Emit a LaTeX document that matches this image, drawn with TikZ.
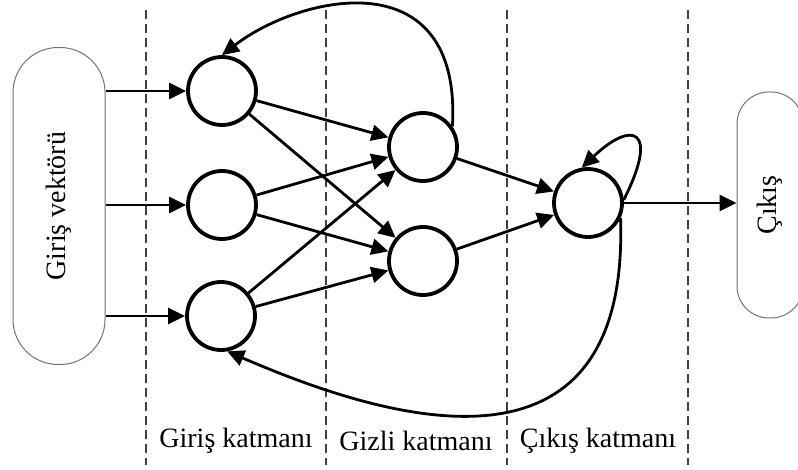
\documentclass[tikz,border=0pt]{standalone}
\usepackage{fontspec}
\setmainfont{Liberation Serif}
\usetikzlibrary{arrows.meta}
\tikzset{
	noron/.style={circle, draw, line width=3.8pt, minimum size=68pt, inner sep=0pt},
	kutu/.style={draw=black!55, line width=1pt, inner sep=0pt, rotate=90},
	ok/.style={line width=2.8pt, -{Triangle[length=17pt,width=16pt]}},
	ayrac/.style={black!75, line width=1.8pt, dash pattern=on 9pt off 5pt},
}
\begin{document}
\begin{tikzpicture}[x=1pt, y=-1pt, font=\fontsize{28}{32}\selectfont]
		\useasboundingbox (0,0) rectangle (798,470);
		% Katman ayraçları
		\foreach \x in {146,326,507,688}
			\draw[ayrac] (\x,10) -- (\x,465);
		% Giriş ve çıkış kutuları
		\node[kutu, minimum width=317pt, minimum height=92pt, rounded corners=45pt] (vec) at (59,206) {Giriş vektörü};
		\node[kutu, minimum width=226pt, minimum height=66pt, rounded corners=32pt] (out) at (770,205) {Çıkış};
		% Nöronlar
		\node[noron] (I1) at (222,91) {};
		\node[noron] (I2) at (222,205) {};
		\node[noron] (I3) at (221,316) {};
		\node[noron] (H1) at (423,147) {};
		\node[noron] (H2) at (423,261) {};
		\node[noron] (O) at (588,203) {};
		% İleri bağlantılar
		\foreach \i in {I1,I2,I3}
			\draw[ok] (vec.south |- \i) -- (\i);
		\foreach \i in {I1,I2,I3}
			\foreach \h in {H1,H2}
				\draw[ok] (\i) -- (\h);
		\draw[ok] (H1) -- (O);
		\draw[ok] (H2) -- (O);
		\draw[ok] (O) -- (O -| out.north);
		% Geri besleme bağlantıları
		\draw[ok] (H1.35) .. controls (462,-42) and (300,-5) .. (I1.north);
		\draw[ok] (O.5) .. controls (660,128) and (632,120) .. (O.100);
		\draw[ok] (O.-25) .. controls (630,500) and (377,416) .. (I3.-80);
		% Katman etiketleri
		\node (gk) at (236,441) {Giriş katmanı};
		\node (zk) at (416,441) {Gizli katmanı};
		\node (ck) at (598,441) {Çıkış katmanı};
\end{tikzpicture}
\end{document}
